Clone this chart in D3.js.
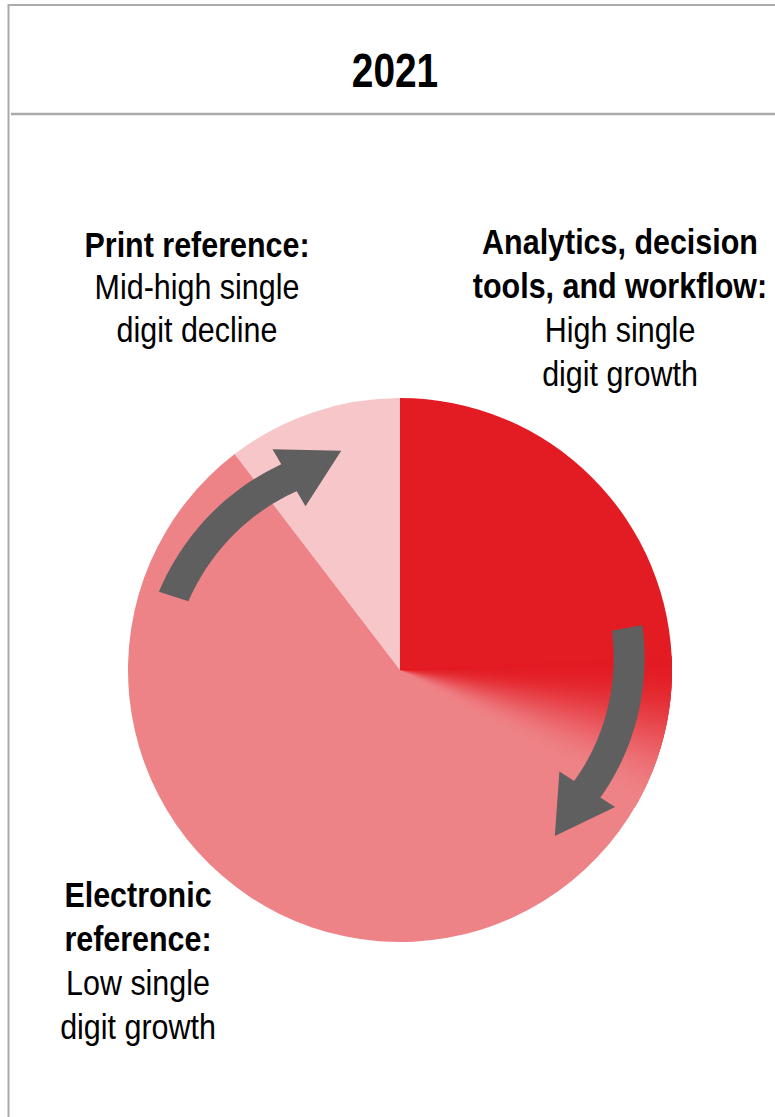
<!DOCTYPE html>
<html>
<head>
<meta charset="utf-8">
<script src="https://cdn.jsdelivr.net/npm/d3@7"></script>
<style>
  body { margin: 0; background: #fff; }
  text { font-family: "Liberation Sans", Arial, sans-serif; fill: #000; }
</style>
</head>
<body>
<div id="chart"></div>
<script>
// 2021 revenue mix pie with growth outlook labels

const title = "2021";
const categories = ["Print reference", "Analytics, decision tools, and workflow", "Electronic reference"];
const shares = [10.4, 25, 64.6];
const colors = ["#f7c6c9", "#e31b23", "#ee8387"];
const labelHeads = [["Print reference:"], ["Analytics, decision", "tools, and workflow:"], ["Electronic", "reference:"]];
const labelBodies = [["Mid-high single", "digit decline"], ["High single", "digit growth"], ["Low single", "digit growth"]];

const width = 775, height = 1117;
const cx = 400, cy = 670, radius = 272;
const deg = Math.PI / 180;
const narrow = 0.87;   // no condensed font installed, squeeze horizontally

// label anchors (centre x, first baseline, line step)
const labelPos = [[197, 257, 42.5], [620, 254, 44], [138, 907, 44]];

// arrows: tail angle, head-base angle, tip angle, radius at tail, radius at head
const arrows = [
  { a0: -72, a1: -30, a2: -15, r0: 238, r1: 222 },
  { a0: 79.5, a1: 122.5, a2: 137, r0: 231, r1: 222 }
];

const svg = d3.select("#chart")
  .append("svg")
  .attr("width", width)
  .attr("height", height);

// frame
svg.append("rect")
  .attr("x", 8.5).attr("y", 5)
  .attr("width", width + 20).attr("height", height + 20)
  .attr("fill", "none")
  .attr("stroke", "#aaaaaa")
  .attr("stroke-width", 2);

svg.append("line")
  .attr("x1", 11).attr("x2", width)
  .attr("y1", 114).attr("y2", 114)
  .attr("stroke", "#aaaaaa")
  .attr("stroke-width", 2.5);

svg.append("text")
  .attr("transform", `translate(395,87) scale(0.81,1)`)
  .attr("text-anchor", "middle")
  .style("font-size", "48px")
  .style("font-weight", "bold")
  .text(title);

// pie
const startA = -shares[0] / d3.sum(shares) * 2 * Math.PI;
const pie = d3.pie().sort(null).startAngle(startA).endAngle(startA + 2 * Math.PI);
const arcs = pie(shares);
const arc = d3.arc().innerRadius(0).outerRadius(radius);

const g = svg.append("g").attr("transform", `translate(${cx},${cy})`);

g.selectAll("path.slice")
  .data(arcs)
  .join("path")
    .attr("class", "slice")
    .attr("fill", (d, i) => colors[i])
    .attr("d", arc)
  .append("title")
    .text((d, i) => `${categories[i]}: ${shares[i]}%`);

// soft angular blend from analytics red into electronic pink
const blendStart = arcs[1].endAngle - 3 * deg;
const blendEnd = arcs[1].endAngle + 30 * deg;
const steps = 110;
const blendColor = d3.interpolateRgb(colors[1], colors[2]);
const stepA = (blendEnd - blendStart) / steps;
g.append("g")
  .selectAll("path")
  .data(d3.range(steps))
  .join("path")
    .attr("fill", i => blendColor(d3.easeSinInOut(i / (steps - 1))))
    .attr("d", i => arc({ startAngle: blendStart + i * stepA, endAngle: blendStart + (i + 1) * stepA + 0.4 * deg }));

// curved arrows
function polar(a, r) {
  return [r * Math.sin(a * deg), -r * Math.cos(a * deg)];
}
function arrowPath(s) {
  const bw = 15.5, hw = 33, n = 40;
  const outer = [], inner = [];
  for (let k = 0; k <= n; k++) {
    const t = k / n;
    const a = s.a0 + (s.a1 - s.a0) * t;
    const r = s.r0 + (s.r1 - s.r0) * t;
    outer.push(polar(a, r + bw));
    inner.push(polar(a, r - bw));
  }
  const rm = s.r1;
  const pts = outer
    .concat([polar(s.a1, rm + hw), polar(s.a2, rm + 5), polar(s.a1, rm - hw)])
    .concat(inner.reverse());
  return "M" + pts.map(p => p.join(",")).join("L") + "Z";
}
g.selectAll("path.arrow")
  .data(arrows)
  .join("path")
    .attr("class", "arrow")
    .attr("fill", "#5f5f5f")
    .attr("d", arrowPath);

// labels
labelPos.forEach((p, i) => {
  const t = svg.append("text")
    .attr("transform", `translate(${p[0]},0) scale(${narrow},1)`)
    .attr("text-anchor", "middle")
    .style("font-size", "35px");
  const lines = labelHeads[i].map(s => [s, true]).concat(labelBodies[i].map(s => [s, false]));
  lines.forEach((l, k) => {
    t.append("tspan")
      .attr("x", 0)
      .attr("y", p[1] + k * p[2])
      .style("font-weight", l[1] ? "bold" : "normal")
      .text(l[0]);
  });
});
</script>
</body>
</html>
